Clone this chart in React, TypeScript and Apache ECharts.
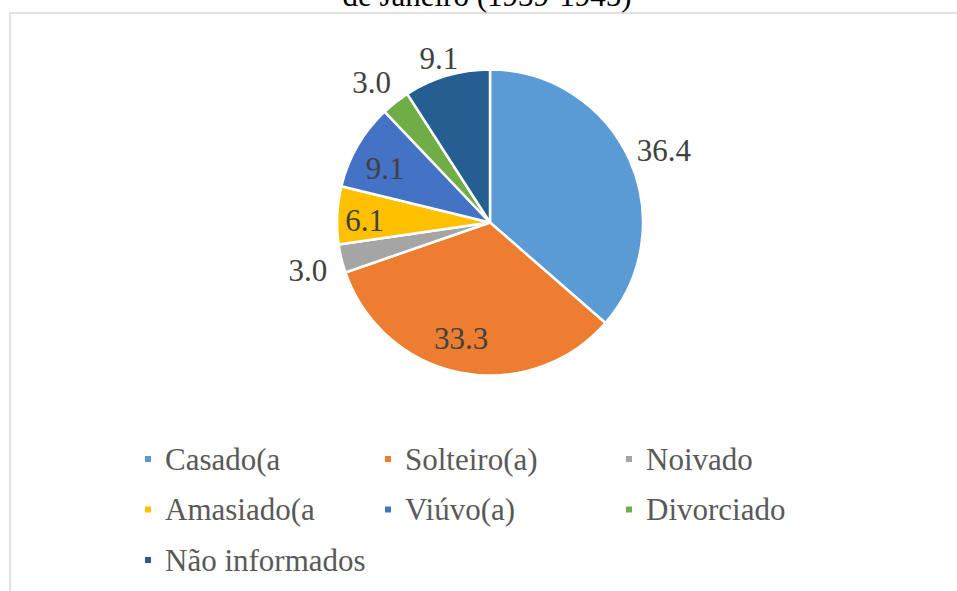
import React, { useEffect, useRef } from 'react';
import * as echarts from 'echarts';

const categories = ['Casado(a', 'Solteiro(a)', 'Noivado', 'Amasiado(a', 'Viúvo(a)', 'Divorciado', 'Não informados'];
const values = [36.4, 33.3, 3.0, 6.1, 9.1, 3.0, 9.1];
const colors = ['#5B9BD5', '#ED7D31', '#A5A5A5', '#FFC000', '#4472C4', '#70AD47', '#255E91'];
const titleText = 'de Janeiro (1939-1945)';
// legend laid out in 3 columns (indices into categories)
const legendColumns = [[0, 3, 6], [1, 4], [2, 5]];
// label distance from centre (fraction of radius) and angular nudge (deg), Excel "best fit"
const labelRadiusFactor = [1.23, 0.78, 1.23, 0.82, 0.77, 1.2, 1.12];
const labelAngleNudge = [2, 3, -1, -2, -3, -2, -1];

const FONT = "'Liberation Serif'";
const CX = 490;
const CY = 222.5;
const R = 153;

export default function App() {
  const ref = useRef<HTMLDivElement>(null);
  useEffect(() => {
    if (!ref.current) return;
    const chart = echarts.init(ref.current, undefined, { renderer: 'svg' });
    const total = values.reduce((a, b) => a + b, 0);
    const cum: number[] = [];
    let acc = 0;
    values.forEach((v) => { cum.push(acc); acc += v; });

    const legendX = [143, 383, 624];
    const legends = legendColumns.map((col, ci) => ({
      orient: 'vertical',
      left: legendX[ci],
      top: 443.5,
      padding: 0,
      itemGap: 19.5,
      itemWidth: 8,
      itemHeight: 8,
      icon: 'rect',
      selectedMode: false,
      data: col.map((i) => categories[i]),
      textStyle: {
        fontFamily: FONT,
        fontSize: 31,
        lineHeight: 31,
        color: '#595959',
        padding: [0, 0, 0, 8],
      },
    }));

    chart.setOption({
      animation: false,
      backgroundColor: '#ffffff',
      color: colors,
      graphic: [
        {
          type: 'rect',
          z: -1,
          shape: { x: 10, y: 13, width: 1000, height: 700 },
          style: { fill: 'none', stroke: '#D9D9D9', lineWidth: 1.5 },
          silent: true,
        },
        {
          type: 'text',
          x: 487,
          y: -5,
          style: {
            text: titleText,
            font: `31px ${FONT}`,
            fill: '#000000',
            align: 'center',
            verticalAlign: 'middle',
          },
          silent: true,
        },
      ],
      legend: legends,
      series: [
        {
          type: 'pie',
          center: [CX, CY],
          radius: [0, R],
          startAngle: 90,
          clockwise: true,
          avoidLabelOverlap: false,
          itemStyle: { borderColor: '#ffffff', borderWidth: 2.5 },
          label: {
            show: true,
            position: 'outside',
            fontFamily: FONT,
            fontSize: 31,
            color: '#404040',
            formatter: (p: any) => Number(p.value).toFixed(1),
          },
          labelLine: { show: false },
          labelLayout: (p: any) => {
            const i = p.dataIndex;
            const a = ((cum[i] + values[i] / 2) / total) * Math.PI * 2 + (labelAngleNudge[i] * Math.PI) / 180;
            const d = R * labelRadiusFactor[i];
            return {
              x: CX + d * Math.sin(a),
              y: CY - d * Math.cos(a),
              align: 'center',
              verticalAlign: 'middle',
            };
          },
          emphasis: { disabled: true },
          data: categories.map((name, i) => ({ name, value: values[i] })),
        },
      ],
    });
    return () => chart.dispose();
  }, []);
  return (
    <div
      ref={ref}
      style={{ position: 'fixed', left: 0, top: 0, width: 957, height: 591 }}
    />
  );
}
